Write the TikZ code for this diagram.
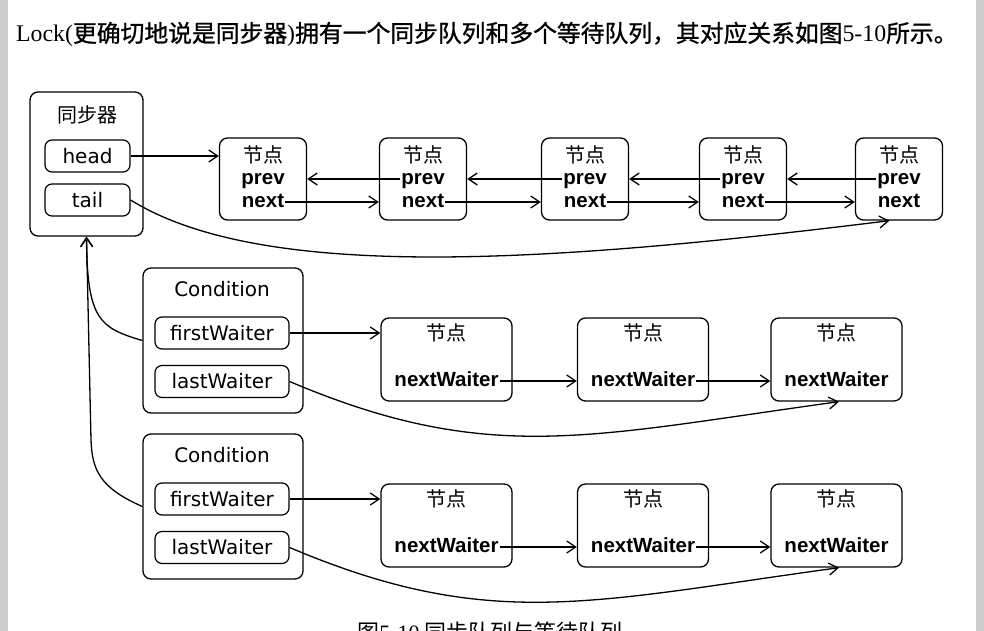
\documentclass[tikz,border=0pt]{standalone}
\usepackage{fontspec}
\setmainfont{Liberation Serif}
\setsansfont{DejaVu Sans}
\newfontfamily\cjk{Noto Sans CJK SC}
\newfontfamily\cjkhead[FakeBold=1]{Noto Sans CJK SC}
\newfontfamily\lab{Liberation Sans}
\usetikzlibrary{arrows.meta}

\tikzset{
    box/.style={draw, line width=1.3pt, rounded corners=8pt, inner sep=0pt},
    field/.style={draw, line width=1.2pt, rounded corners=7pt, inner sep=0pt,
        minimum height=32pt, font=\fontsize{20}{24}\sffamily},
    cnode/.style={box, minimum width=87pt, minimum height=82pt},
    wnode/.style={box, minimum width=131pt, minimum height=83pt},
    cjklabel/.style={inner sep=0pt, font=\fontsize{20}{24}\cjk},
    boldlabel/.style={inner sep=0pt, inner xsep=1pt, text height=15pt, text depth=4pt,
        font=\fontsize{20.5}{24}\lab\bfseries},
    link/.style={line width=1.3pt, -{Straight Barb[length=9pt,width=12pt]}},
}

\begin{document}
\begin{tikzpicture}[x=1pt, y=-1pt]
    \clip (0,0) rectangle (984,631);
    \fill[white] (0,0) rectangle (984,631);
    \fill[gray!40] (0,0) rectangle (8,631);
    \fill[gray!40] (976,0) rectangle (984,631);

    \node[anchor=base west, inner sep=0pt] (intro) at (16,42)
        {\fontsize{23.8}{26}\selectfont Lock(\cjkhead 更确切地说是同步器\rmfamily )\cjkhead 拥有一个同步队列和多个等待队列，其对应关系如图\rmfamily 5-10\cjkhead 所示。};

    % sync queue
    \node[box, minimum width=113pt, minimum height=144pt] (sync) at (86.5,164) {};
    \node[cjklabel] (synctitle) at (87,115) {同步器};
    \node[field, minimum width=85pt] (head) at (87.5,156) {head};
    \node[field, minimum width=85pt] (tail) at (87.5,200) {tail};

    \foreach \cx [count=\i] in {263,423,585,743,899} {
        \node[cnode] (n\i) at (\cx,179) {};
        \node[cjklabel] (t\i) at (\cx,155) {节点};
        \node[boldlabel] (p\i) at (\cx,179) {prev};
        \node[boldlabel] (x\i) at (\cx,202) {next};
    }
    \foreach \i [evaluate=\i as \j using int(\i+1)] in {1,...,4} {
        \draw[link] (x\i.east) -- (x\i.east -| n\j.west);
        \draw[link] (p\j.west) -- (p\j.west -| n\i.east);
    }
    \draw[link] (head.east) -- (head.east -| n1.west);
    \draw[link] (tail.east) .. controls (261,281) and (540,264) .. ([xshift=-9.5pt]n5.south);

    % condition queues
    \foreach \r/\dy in {1/0, 2/166} {
        \node[box, minimum width=160pt, minimum height=145pt] (c\r) at (223,340.5+\dy) {};
        \node[inner sep=0pt, font=\fontsize{20}{24}\sffamily] (ct\r) at (222,289+\dy) {Condition};
        \node[field, minimum width=134pt] (fw\r) at (222,333+\dy) {firstWaiter};
        \node[field, minimum width=134pt] (lw\r) at (222,381.5+\dy) {lastWaiter};
        \foreach \cx [count=\i] in {446.5,643,836.5} {
            \node[wnode] (w\r\i) at (\cx,359.5+\dy) {};
            \node[cjklabel] (wt\r\i) at (\cx,333+\dy) {节点};
            \node[boldlabel] (nw\r\i) at (\cx,381+\dy) {nextWaiter};
        }
        \draw[link] (fw\r.east) -- (fw\r.east -| w\r1.west);
        \draw[link] (nw\r1.east) -- (nw\r1.east -| w\r2.west);
        \draw[link] (nw\r2.east) -- (nw\r2.east -| w\r3.west);
        \draw[link] (lw\r.east) .. controls (489,466+\dy) and (589,436+\dy) .. ([xshift=2.5pt]w\r3.south);
    }
    \draw[link] (c1.west) .. controls (100,328) and (87,320) .. (sync.south);
    \draw[link] (c2.west) .. controls (100,488) and (92,470) .. (91,440) -- (sync.south);

    \node[anchor=base, inner sep=0pt] (caption) at (490,640)
        {\fontsize{22}{24}\cjk 图\rmfamily 5-10\cjk\ 同步队列与等待队列};
\end{tikzpicture}
\end{document}
